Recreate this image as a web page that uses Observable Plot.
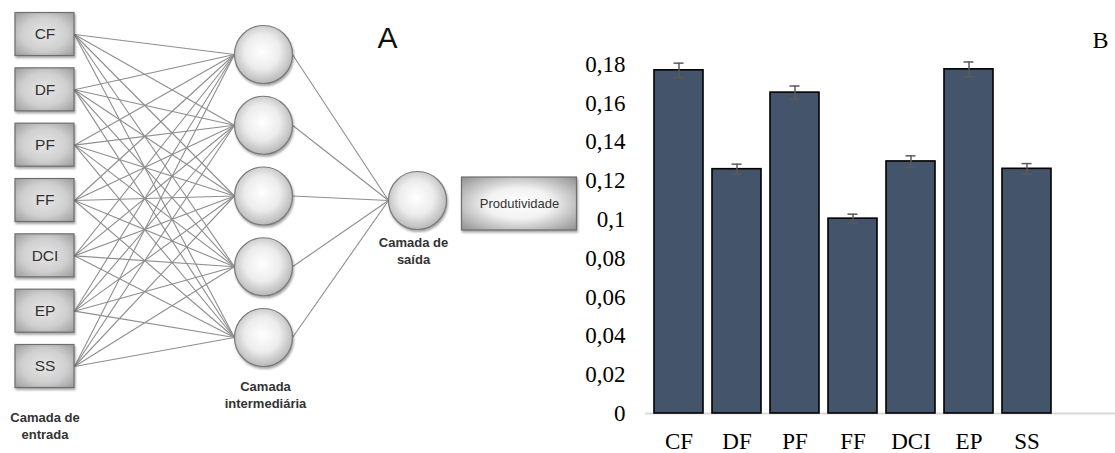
<!DOCTYPE html>
<html><head><meta charset="utf-8">
<script src="https://cdn.jsdelivr.net/npm/d3@7"></script>
<script src="https://cdn.jsdelivr.net/npm/@observablehq/plot@0.6"></script>
<style>
html,body{margin:0;padding:0;background:#fff;}
#fig{position:relative;width:1115px;height:453px;overflow:hidden;background:#fff;}
#fig > svg{position:absolute;top:0;}
#figA g[aria-label="rect"], #figA g[aria-label="dot"]{filter:drop-shadow(1.5px 2px 1.2px rgba(0,0,0,0.35));}
#figB text{font-family:'Liberation Serif','Times New Roman',serif;}
</style></head><body><div id="fig"></div>
<script>
// ---------- Panel A: network structure ----------
const inputLabels = ["CF","DF","PF","FF","DCI","EP","SS"];
const hiddenNodes = ["h1","h2","h3","h4","h5"];
const outputNodes = ["o1"];
const outputLabel = "Produtividade";
const layerTitles = ["Camada de\nentrada","Camada\nintermediária","Camada de\nsaída"];
const panelLabels = ["A","B"];

// ---------- Panel B: bar chart ----------
const categories = ["CF","DF","PF","FF","DCI","EP","SS"];
const values = [0.177, 0.126, 0.1655, 0.1005, 0.130, 0.1775, 0.1262];
const errors = [0.0037, 0.0026, 0.0034, 0.0023, 0.0029, 0.0038, 0.0027];
const yTicks = [0,0.02,0.04,0.06,0.08,0.1,0.12,0.14,0.16,0.18];
const yTickLabels = ["0","0,02","0,04","0,06","0,08","0,1","0,12","0,14","0,16","0,18"];

// ----- layout for panel A -----
const H = 453;
const inX = 44.5, boxW = 59, boxH = 43;
const inY = d3.scalePoint(inputLabels, [34, 366]);
const hX = 263, hR = 29;
const hY = d3.scalePoint(hiddenNodes, [54, 337]);
const oX = 417, oR = 29, oYc = 200;
const pX = 519, pW = 115, pH = 53, pY = 203.5;

const nodesIn = inputLabels.map(l => ({label: l, x: inX, y: inY(l)}));
const nodesH = hiddenNodes.map(h => ({x: hX, y: hY(h)}));
const nodesO = outputNodes.map(o => ({x: oX, y: oYc}));
const linksIH = nodesIn.flatMap(a => nodesH.map(b => ({x1: a.x + boxW/2, y1: a.y, x2: b.x - hR, y2: b.y})));
const linksHO = nodesH.flatMap(b => nodesO.map(o => ({x1: b.x + hR, y1: b.y, x2: o.x - oR, y2: o.y})));
const titles = [
  {t: layerTitles[0], x: inX, y: inY(inputLabels[inputLabels.length-1]) + 59},
  {t: layerTitles[1], x: hX + 2, y: hY(hiddenNodes[hiddenNodes.length-1]) + 57},
  {t: layerTitles[2], x: oX - 4, y: oYc + 50}
];

const sans = "'Liberation Sans', Arial, sans-serif";
const chartA = Plot.plot({
  width: 580, height: H, margin: 0, axis: null,
  x: {type: "identity"}, y: {type: "identity"},
  marks: [
    Plot.link(linksIH, {x1: "x1", y1: "y1", x2: "x2", y2: "y2", stroke: "#8e8e8e", strokeWidth: 1.1}),
    Plot.link(linksHO, {x1: "x1", y1: "y1", x2: "x2", y2: "y2", stroke: "#8e8e8e", strokeWidth: 1.1}),
    Plot.rect(nodesIn, {x1: d => d.x - boxW/2, x2: d => d.x + boxW/2, y1: d => d.y - boxH/2, y2: d => d.y + boxH/2,
      fill: "url(#gBox)", stroke: "#6e6e6e", strokeWidth: 1.2}),
    Plot.text(nodesIn, {x: "x", y: "y", text: "label", fontSize: 15.5, fontFamily: sans, fill: "#333"}),
    Plot.dot(nodesH, {x: "x", y: "y", r: hR, fill: "url(#gCirc)", stroke: "#7a7a7a", strokeWidth: 1.2}),
    Plot.dot(nodesO, {x: "x", y: "y", r: oR, fill: "url(#gCirc)", stroke: "#7a7a7a", strokeWidth: 1.2}),
    Plot.rect([outputLabel], {x1: () => pX - pW/2, x2: () => pX + pW/2, y1: () => pY - pH/2, y2: () => pY + pH/2,
      fill: "url(#gProd)", stroke: "#6e6e6e", strokeWidth: 1.2}),
    Plot.text([outputLabel], {x: () => pX, y: () => pY, text: d => d, fontSize: 13, fontFamily: sans, fill: "#333"}),
    Plot.text(titles, {x: "x", y: "y", text: "t", fontSize: 13, fontWeight: "bold", lineHeight: 1.3, fontFamily: sans, fill: "#333"}),
    Plot.text([panelLabels[0]], {frameAnchor: "top-left", dx: 387, dy: 38, text: d => d, textAnchor: "middle", lineAnchor: "middle",
      fontSize: 30, fontFamily: sans, fill: "#111"})
  ]
});
chartA.id = "figA";
const defs = d3.select(chartA).insert("defs", ":first-child");
function radial(id, stops, cx = "50%", cy = "50%", r = "70%") {
  const g = defs.append("radialGradient").attr("id", id).attr("cx", cx).attr("cy", cy).attr("r", r);
  stops.forEach(([o, c]) => g.append("stop").attr("offset", o).attr("stop-color", c));
}
radial("gBox", [["0%", "#e6e6e6"], ["55%", "#cfcfcf"], ["100%", "#9c9c9c"]]);
radial("gCirc", [["0%", "#ffffff"], ["55%", "#ececec"], ["100%", "#b8b8b8"]], "48%", "45%", "55%");
radial("gProd", [["0%", "#ffffff"], ["40%", "#f2f2f2"], ["100%", "#8c8c8c"]], "50%", "50%", "72%");
chartA.style.left = "0px";

// ----- panel B -----
const data = categories.map((c, i) => ({cat: c, value: values[i], err: errors[i]}));
const serif = "'Liberation Serif', 'Times New Roman', serif";
const chartB = Plot.plot({
  width: 535, height: H,
  marginLeft: 65, marginRight: 0, marginTop: 64, marginBottom: 40,
  style: {fontFamily: serif},
  x: {domain: categories, range: [70.7, 473.6], paddingInner: 0.16, paddingOuter: 0, label: null},
  y: {domain: [0, 0.18], label: null},
  marks: [
    Plot.ruleY([0], {stroke: "#d9d9d9", strokeWidth: 2}),
    Plot.barY(data, {x: "cat", y: "value", fill: "#44546a", stroke: "#000", strokeWidth: 1.6}),
    Plot.ruleX(data, {x: "cat", y1: d => d.value - d.err, y2: d => d.value + d.err, stroke: "#5a5a5a", strokeWidth: 1.5}),
    Plot.tickY(data, {x: "cat", y: d => d.value + d.err, stroke: "#5a5a5a", strokeWidth: 1.5, insetLeft: 19.5, insetRight: 19.5}),
    Plot.tickY(data, {x: "cat", y: d => d.value - d.err, stroke: "#5a5a5a", strokeWidth: 1.5, insetLeft: 19.5, insetRight: 19.5}),
    Plot.axisY(yTicks, {tickSize: 0, tickPadding: 20, label: null, tickFormat: d => yTickLabels[yTicks.indexOf(d)],
      fontSize: 23, fontFamily: serif, color: "#000"}),
    Plot.axisX({tickSize: 0, tickPadding: 19, label: null, fontSize: 23, fontFamily: serif, color: "#000"}),
    Plot.text([panelLabels[1]], {frameAnchor: "top-right", dx: -15, dy: -24, text: d => d, textAnchor: "middle", lineAnchor: "middle",
      fontSize: 24, fontFamily: serif, fill: "#000"})
  ]
});
chartB.id = "figB";
chartB.style.left = "580px";

const fig = document.getElementById("fig");
fig.appendChild(chartA);
fig.appendChild(chartB);
</script></body></html>
